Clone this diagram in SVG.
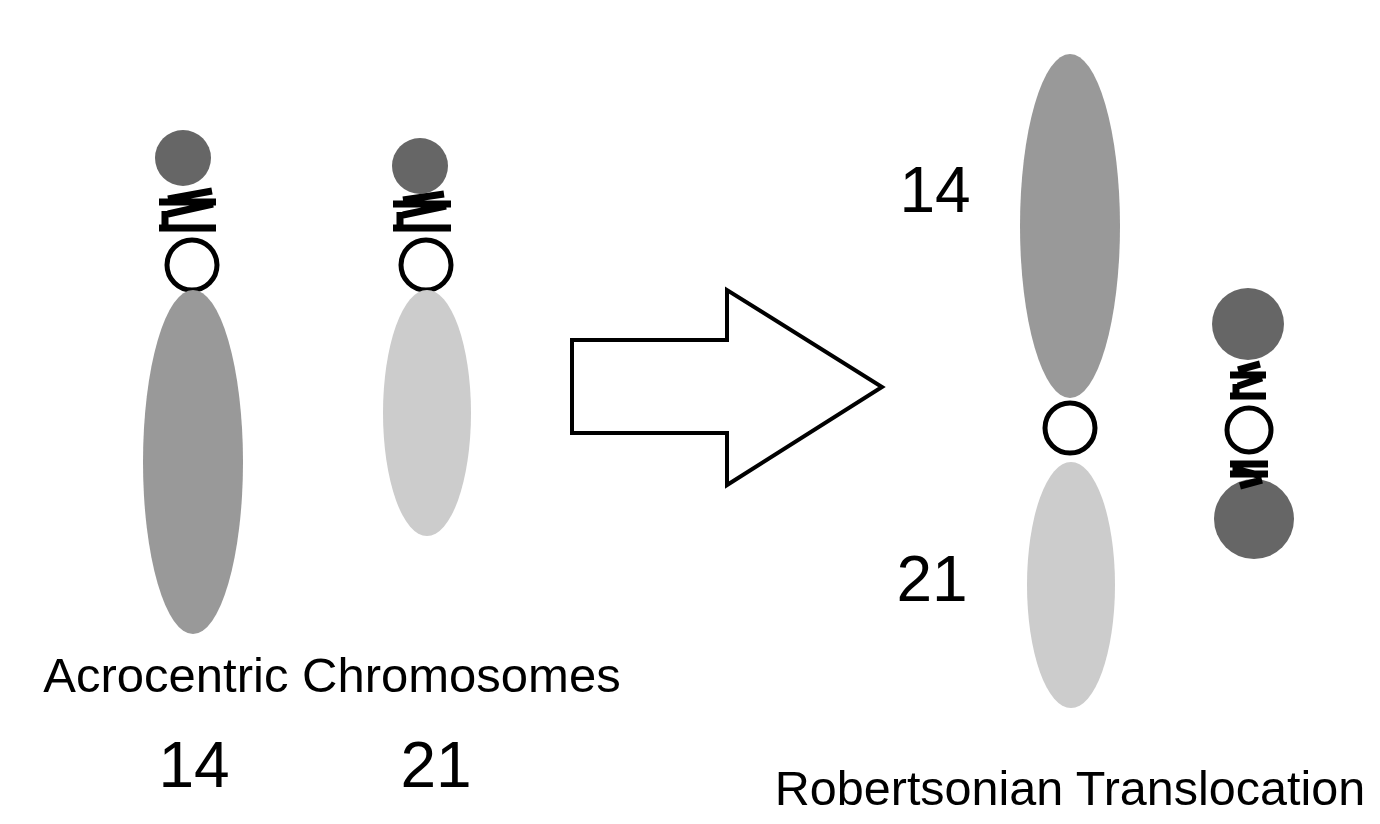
<svg xmlns="http://www.w3.org/2000/svg" width="1380" height="824" viewBox="0 0 1380 824">
<style>
.t{font-family:"Liberation Sans",Arial,sans-serif;fill:#000}
.c{fill:#fff;stroke:#000;stroke-width:5}
.z{fill:none;stroke:#000;stroke-width:7;stroke-linecap:butt}
.sat{fill:#666}
.l{fill:#999}.s{fill:#ccc}
</style>
<rect width="1380" height="824" fill="#fff"/>
<g id="chr14">
<circle class="sat" cx="183" cy="158" r="28"/>
<path class="z" d="M212,191 L168,199 M159,202 H216 M213,204 L168,214 M165,211 V228 M159,228 H216"/>
<circle class="c" cx="192" cy="265" r="25"/>
<ellipse class="l" cx="193" cy="462" rx="50" ry="172"/>
</g>
<g id="chr21">
<circle class="sat" cx="420" cy="166" r="28"/>
<path class="z" d="M444,194 L403,200 M393,204 H451 M446,206 L403,215 M400,212 V228 M393,228 H451"/>
<circle class="c" cx="426" cy="265" r="25"/>
<ellipse class="s" cx="427" cy="413" rx="44" ry="123"/>
</g>
<g id="arrow">
<polygon points="572,340 727,340 727,290 882,387 727,485 727,433 572,433" fill="#fff" stroke="#000" stroke-width="4"/>
</g>
<g id="rob">
<ellipse class="l" cx="1070" cy="226" rx="50" ry="172"/>
<circle class="c" cx="1070" cy="428" r="25"/>
<ellipse class="s" cx="1071" cy="585" rx="44" ry="123"/>
</g>
<g id="small">
<circle class="sat" cx="1248" cy="324" r="36"/>
<circle class="sat" cx="1254" cy="519" r="40"/>
<path class="z" d="M1260,364 L1238,370 M1230,375 H1266 M1262,378 L1238,386 M1236,384 V398 M1230,396 H1266"/>
<path class="z" d="M1230,464 H1268 M1236,462 V476 M1238,470 L1262,476 M1230,474 H1268 M1240,486 L1262,480"/>
<circle class="c" cx="1249" cy="430" r="22"/>
</g>
<g id="labels">
<text class="t" x="332" y="692" font-size="49" text-anchor="middle">Acrocentric Chromosomes</text>
<text class="t" x="194" y="787" font-size="64" text-anchor="middle">14</text>
<text class="t" x="436" y="787" font-size="64" text-anchor="middle">21</text>
<text class="t" x="935" y="212" font-size="64" text-anchor="middle">14</text>
<text class="t" x="932" y="601" font-size="64" text-anchor="middle">21</text>
<text class="t" x="1070" y="805" font-size="48.5" text-anchor="middle">Robertsonian Translocation</text>
</g>
</svg>
